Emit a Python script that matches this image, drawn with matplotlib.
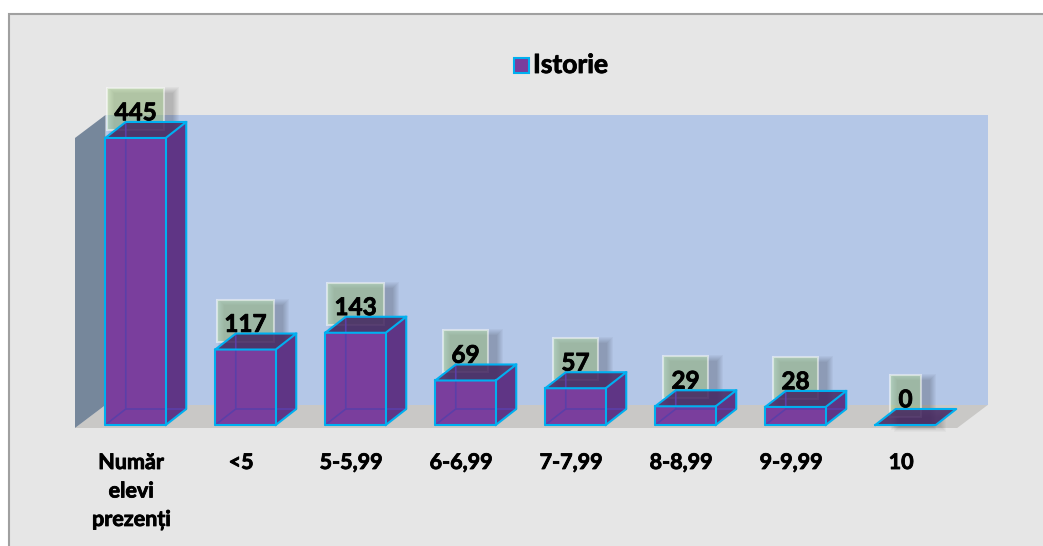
import matplotlib
matplotlib.use('Agg')
import matplotlib.pyplot as plt
import matplotlib.patheffects as pe
from matplotlib.patches import Polygon, Rectangle

plt.rcParams['font.family'] = ['Lato', 'DejaVu Sans']

categorii = ['Număr\nelevi\nprezenți', '<5', '5-5,99', '6-6,99', '7-7,99', '8-8,99', '9-9,99', '10']
valori = [445, 117, 143, 69, 57, 29, 28, 0]
serie = 'Istorie'

# scara: 110 px pe categorie, 0.645 px pe unitate
PX_X = 110.0
PX_Y = 0.645

fig = plt.figure(figsize=(10.43, 5.46), dpi=100, facecolor='white')
ax = fig.add_axes([0, 0, 1, 1])
ax.set_xlim(-135.5 / PX_X, (1043 - 135.5) / PX_X)
ax.set_ylim((425 - 546) / PX_Y, 425 / PX_Y)
ax.axis('off')

# textul din original e mai gros decat Lato Bold
gros = [pe.withStroke(linewidth=0.6, foreground='black')]


def dx(px):
    return px / PX_X


def dy(px):
    return px / PX_Y


def poligon(puncte, **kw):
    kw.setdefault('linewidth', 0)
    ax.add_patch(Polygon(puncte, closed=True, joinstyle='round', **kw))


# fundalul graficului (iese din imagine jos si in dreapta)
ax.add_patch(Rectangle((dx(-127), dy(-160)), dx(1200), dy(571), facecolor='#E6E6E6',
                       edgecolor='#A0A0A0', linewidth=1.5, zorder=0))

# peretii si podeaua
stanga, dreapta = -0.55, 7.47
jos, sus = dy(-3), 445
ad_x, ad_y = dx(30.5), dy(23)
poligon([(stanga + ad_x, jos + ad_y), (dreapta + ad_x, jos + ad_y),
         (dreapta + ad_x, sus + ad_y), (stanga + ad_x, sus + ad_y)], facecolor='#B4C7E7', zorder=1)
poligon([(stanga, jos), (dreapta, jos), (dreapta + ad_x, jos + ad_y), (stanga + ad_x, jos + ad_y)],
        facecolor='#C9C8C6', zorder=1)
poligon([(stanga, jos), (stanga + ad_x, jos + ad_y), (stanga + ad_x, sus + ad_y), (stanga, sus)],
        facecolor='#76879B', zorder=1)

# legenda
ax.add_patch(Rectangle((dx(513.5 - 135.5), dy(425 - 73)), dx(15), dy(15), facecolor='#7A3E9D',
                       edgecolor='#00B0F0', linewidth=1.5, zorder=2))
ax.text(dx(533 - 135.5), dy(425 - 65), serie, fontsize=19, fontweight='bold', va='center', ha='left', zorder=9,
        path_effects=gros)

# barele
lat = 0.275
bar_dx, bar_dy = dx(20.5), dy(16)
albastru = '#00B0F0'
for i, (cat, val) in enumerate(zip(categorii, valori)):
    st, dr = i - lat, i + lat

    # caseta etichetei, cu umbra spre dreapta si in jos
    eticheta = str(val)
    w = dx(18 + 13.3 * len(eticheta))
    y0 = val + dy(8)
    h = dy(42)
    for g in range(7, 0, -1):
        ax.add_patch(Rectangle((i - w / 2 + dx(8 - g), y0 - dy(6 + g)), w + dx(2 * g), h + dy(2 * g),
                               facecolor='black', alpha=0.03, linewidth=0, zorder=3))
    # bara fara inaltime isi lasa umbra pe podea
    if val == 0:
        for g in range(6, 0, -1):
            ax.add_patch(Rectangle((i - dx(6 + g), -dy(1 + g)), dx(40 + 2 * g), dy(8 + 2 * g),
                                   facecolor='black', alpha=0.025, linewidth=0, zorder=3))
    ax.add_patch(Rectangle((i - w / 2, y0), w, h, facecolor=(0.68, 0.83, 0.58, 0.5),
                           edgecolor=(1, 1, 1, 0.5), linewidth=1.5, zorder=4))
    ax.text(i, y0 + h * 0.41, eticheta, fontsize=17.5, fontweight='bold', ha='center', va='center', zorder=9,
            path_effects=gros)

    # fetele barei
    poligon([(st, val), (dr, val), (dr + bar_dx, val + bar_dy), (st + bar_dx, val + bar_dy)],
            facecolor='#42245F', alpha=0.85, zorder=5)
    if val > 0:
        poligon([(dr, 0), (dr + bar_dx, bar_dy), (dr + bar_dx, val + bar_dy), (dr, val)],
                facecolor='#5F3585', zorder=5)
        poligon([(st, 0), (dr, 0), (dr, val), (st, val)], facecolor='#7A3E9D', zorder=5)
        # muchiile din spate, vazute prin bara
        ax.plot([st, st + bar_dx, st + bar_dx], [0, bar_dy, val + bar_dy], color='#5B3FA8', lw=1.2, zorder=6)
        ax.plot([st + bar_dx, dr + bar_dx], [bar_dy, bar_dy], color='#5B3FA8', lw=1.2, zorder=6)

    # muchiile vizibile
    ax.plot([st, dr, dr + bar_dx, st + bar_dx, st], [val, val, val + bar_dy, val + bar_dy, val],
            color=albastru, lw=1.5, zorder=7, solid_joinstyle='round')
    if val > 0:
        ax.plot([st, st, dr, dr], [val, 0, 0, val], color=albastru, lw=1.5, zorder=7, solid_joinstyle='round')
        ax.plot([dr, dr + bar_dx, dr + bar_dx], [0, bar_dy, val + bar_dy], color=albastru, lw=1.5, zorder=7,
                solid_joinstyle='round')

    # eticheta categoriei
    ax.text(i - 0.04, dy(425 - 452), cat, fontsize=15.5, fontweight='bold', ha='center', va='top',
            linespacing=1.44, zorder=9, path_effects=gros)

fig.savefig('out.png', dpi=100)
